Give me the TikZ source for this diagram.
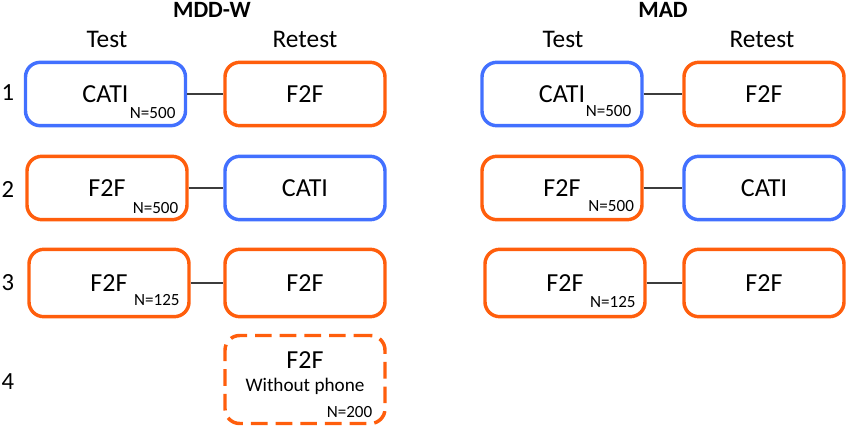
\documentclass[tikz,border=0pt]{standalone}
\usepackage{fontspec}
\setmainfont{Carlito}
\definecolor{catiblue}{RGB}{66,112,255}
\definecolor{ftfor}{RGB}{255,94,12}
\tikzset{every picture/.style={line width=0.75pt}}
\tikzset{
  modebox/.style={draw, rounded corners=11pt, line width=2.6pt, minimum width=120pt, minimum height=47.5pt, inner sep=0pt, font=\fontsize{19.5}{22}\selectfont},
  catibox/.style={modebox, draw=catiblue},
  ftfbox/.style={modebox, draw=ftfor},
  nlabel/.style={anchor=base east, inner sep=0pt, font=\fontsize{12.8}{14}\selectfont},
  head/.style={anchor=base, inner sep=0pt, font=\fontsize{19}{22}\selectfont},
  title/.style={anchor=base, inner sep=0pt, font=\fontsize{17.5}{20}\selectfont\bfseries},
  rownum/.style={inner sep=0pt, font=\fontsize{18.5}{22}\selectfont},
  link/.style={draw={rgb,255:red,60;green,60;blue,60}, line width=1.2pt}
}
\begin{document}
\begin{tikzpicture}[x=0.75pt,y=0.75pt,yscale=-1,xscale=1]
\useasboundingbox (0,0) rectangle (850,431);

% Text Node
\draw (212,18) node [title] (mddw) {MDD-W};
\draw (663,18) node [title] (mad) {MAD};
\draw (107,48) node [head] (testA) {Test};
\draw (305,48) node [head] (retestA) {Retest};
\draw (563,48) node [head] (testB) {Test};
\draw (762,48) node [head] (retestB) {Retest};

% Text Node
\draw (8,93) node [rownum] (r1) {1};
\draw (8,189) node [rownum] (r2) {2};
\draw (8,283) node [rownum] (r3) {3};
\draw (8,382) node [rownum] (r4) {4};

%Rounded Rect
\draw (105.5,94) node [catibox] (a1) {CATI};
\draw (305,94) node [ftfbox] (b1) {F2F};
\draw (107,188) node [ftfbox] (a2) {F2F};
\draw (305,188) node [catibox] (b2) {CATI};
\draw (109,283) node [ftfbox, minimum height=50.5pt] (a3) {F2F};
\draw (305,283) node [ftfbox, minimum height=50.5pt] (b3) {F2F};

%Rounded Rect
\draw (562,94) node [catibox] (c1) {CATI};
\draw (764,94) node [ftfbox] (d1) {F2F};
\draw (562,188) node [ftfbox] (c2) {F2F};
\draw (764,188) node [catibox] (d2) {CATI};
\draw (565,283) node [ftfbox, minimum height=50.5pt] (c3) {F2F};
\draw (764,283) node [ftfbox, minimum height=50.5pt] (d3) {F2F};

%Rounded Rect (dashed)
\draw (305,379.5) node [ftfbox, minimum height=66pt, dash pattern=on 12.5pt off 6pt] (b4) {};
\draw (305,360) node [inner sep=0pt][font=\fontsize{19.5}{22}\selectfont] (b4t) {F2F};
\draw (305,386) node [inner sep=0pt][font=\fontsize{14.4}{17}\selectfont] (b4s) {Without phone};

% N labels
\draw ([xshift=-8.5pt,yshift=-7pt]a1.south east) node [nlabel] (na1) {N=500};
\draw ([xshift=-7.5pt,yshift=-6pt]a2.south east) node [nlabel] (na2) {N=500};
\draw ([xshift=-8pt,yshift=-9.5pt]a3.south east) node [nlabel] (na3) {N=125};
\draw ([xshift=-9pt,yshift=-8pt]c1.south east) node [nlabel] (nc1) {N=500};
\draw ([xshift=-7pt,yshift=-7.5pt]c2.south east) node [nlabel] (nc2) {N=500};
\draw ([xshift=-8pt,yshift=-8.5pt]c3.south east) node [nlabel] (nc3) {N=125};
\draw ([xshift=-10.5pt,yshift=-5.5pt]b4.south east) node [nlabel] (nb4) {N=200};

%Straight Lines
\draw [link] (a1.east) -- (b1.west);
\draw [link] (a2.east) -- (b2.west);
\draw [link] (a3.east) -- (b3.west);
\draw [link] (c1.east) -- (d1.west);
\draw [link] (c2.east) -- (d2.west);
\draw [link] (c3.east) -- (d3.west);

\end{tikzpicture}
\end{document}
